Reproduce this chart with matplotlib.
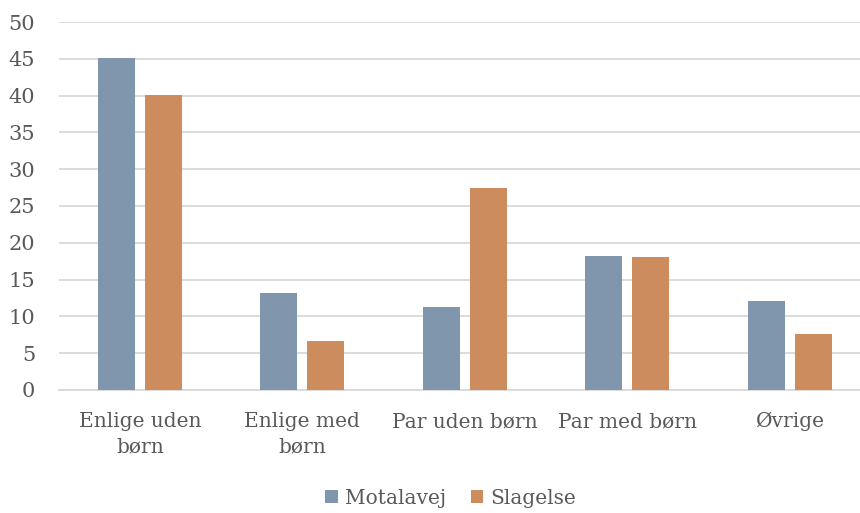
import numpy as np
import matplotlib
matplotlib.use('Agg')
import matplotlib.pyplot as plt

categories = ['Enlige uden\nbørn', 'Enlige med\nbørn', 'Par uden børn', 'Par med børn', 'Øvrige']
motalavej = [45.1, 13.2, 11.3, 18.2, 12.1]
slagelse = [40.1, 6.7, 27.5, 18.0, 7.6]
yticks = [0, 5, 10, 15, 20, 25, 30, 35, 40, 45, 50]

text_color = '#595959'
plt.rcParams['font.family'] = ['DejaVu Serif']

fig = plt.figure(figsize=(8.6, 5.13), dpi=100)
# plot area runs a little past the right edge, like the original
ax = fig.add_axes([0.0683, 0.24, 0.9445, 0.717])

x = np.arange(len(categories))
width = 0.228
offset = 0.145
ax.bar(x - offset, motalavej, width, color='#7f96ad', label='Motalavej', zorder=3)
ax.bar(x + offset, slagelse, width, color='#cd8c5e', label='Slagelse', zorder=3)

ax.set_xlim(-0.5, len(categories) - 0.5)
ax.set_ylim(0, 50)
ax.set_yticks(yticks)
ax.yaxis.grid(True, color='#d9d9d9', linewidth=1.3, zorder=0)
ax.set_xticks(x)
ax.set_xticklabels(categories, linespacing=1.4)

for side in ['top', 'right', 'left']:
    ax.spines[side].set_visible(False)
ax.spines['bottom'].set_color('#d9d9d9')
ax.spines['bottom'].set_linewidth(1.3)
ax.tick_params(axis='both', length=0, colors=text_color)
ax.tick_params(axis='x', labelsize=14.5, pad=16)
ax.tick_params(axis='y', labelsize=15, pad=17)

fig.legend(loc='center', bbox_to_anchor=(0.524, 0.029), ncol=2, frameon=False,
           fontsize=14.5, handlelength=0.6, handleheight=0.6, handletextpad=0.35,
           columnspacing=1.25, labelcolor=text_color)

fig.savefig('out.png', dpi=100)
